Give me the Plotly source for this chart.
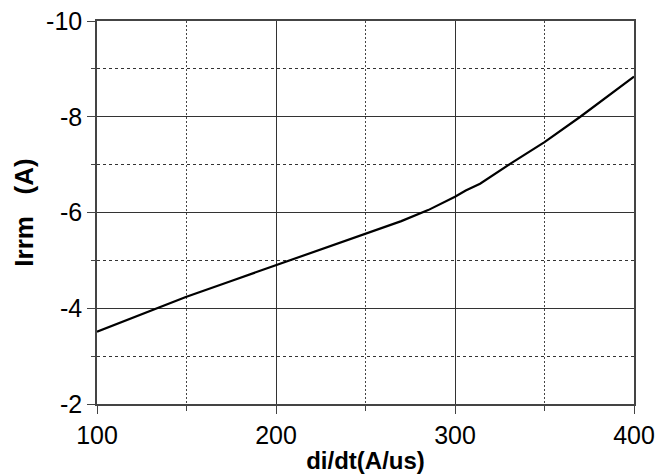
import plotly.graph_objects as go

# Data
di_dt = [100, 125, 150, 175, 200, 225, 250, 270, 285, 300, 306, 314, 331, 350, 370, 385, 400]
irrm = [-3.51, -3.87, -4.24, -4.57, -4.90, -5.22, -5.55, -5.82, -6.05, -6.33, -6.46, -6.60, -7.02, -7.47, -8.00, -8.42, -8.84]

x_tickvals = [100, 200, 300, 400]
x_ticktext = ["100", "200", "300", "400"]
y_tickvals = [-2, -4, -6, -8, -10]
y_ticktext = ["-2", "-4", "-6", "-8", "-10"]

fig = go.Figure()
fig.add_trace(go.Scatter(x=di_dt, y=irrm, mode="lines",
                         line=dict(color="black", width=2.2),
                         showlegend=False))

font_family = "Liberation Sans, Arial, sans-serif"
axis_common = dict(
    showline=True, linecolor="#444", linewidth=1.5, mirror=True,
    showgrid=True, gridcolor="#333", gridwidth=1,
    ticks="outside", ticklen=8, tickwidth=1.2, tickcolor="#444",
    tickfont=dict(family=font_family, size=25, color="black"),
    zeroline=False,
)

fig.update_layout(
    width=660, height=474,
    margin=dict(l=97, r=26, t=21, b=70),
    paper_bgcolor="white", plot_bgcolor="white",
    xaxis=dict(
        range=[100, 400], tickvals=x_tickvals, ticktext=x_ticktext,
        title=dict(text="<b>di/dt(A/us)</b>", font=dict(family=font_family, size=24, color="black"), standoff=5),
        minor=dict(dtick=50, tick0=100, showgrid=True, gridcolor="#444", griddash="2px,2px",
                   gridwidth=1, ticks="outside", ticklen=5, tickcolor="#444"),
        automargin=False,
        **axis_common,
    ),
    yaxis=dict(
        range=[-2, -10], tickvals=y_tickvals, ticktext=y_ticktext,
        title=dict(text="<b>Irrm\u00a0\u00a0\u00a0(A)</b>", font=dict(family=font_family, size=26, color="black"), standoff=5),
        minor=dict(dtick=1, tick0=-2, showgrid=True, gridcolor="#333", griddash="3px,3px",
                   gridwidth=1, ticks="outside", ticklen=4, tickcolor="#444"),
        automargin=False,
        **axis_common,
    ),
)

fig.write_html("out.html", config={"displayModeBar": False},
               post_script="document.body.style.margin='0';document.body.style.overflow='hidden';")
